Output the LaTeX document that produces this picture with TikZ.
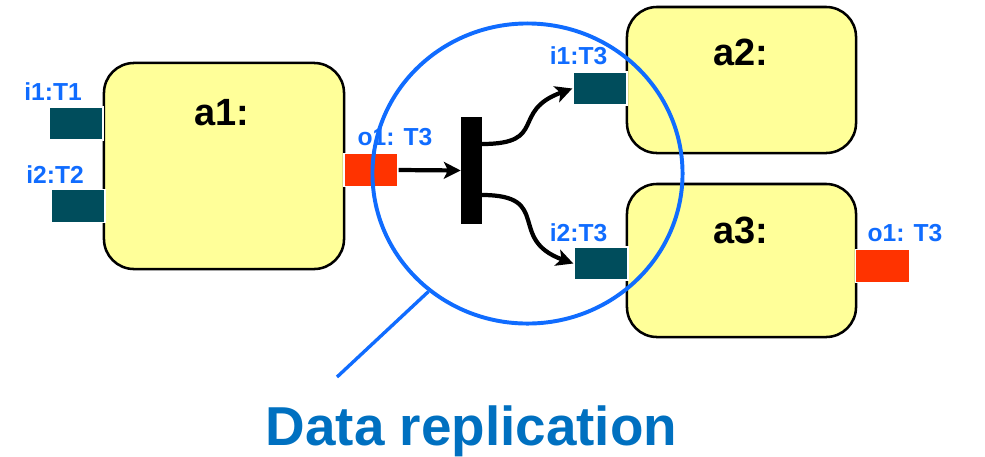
\documentclass[tikz,border=0pt]{standalone}
\usepackage{fontspec}
\setmainfont{Liberation Sans}
\usetikzlibrary{arrows.meta,shapes.geometric}

\definecolor{boxyellow}{RGB}{255,255,153}
\definecolor{portteal}{RGB}{0,77,92}
\definecolor{portred}{RGB}{255,51,0}
\definecolor{labblue}{RGB}{16,108,255}
\definecolor{titleblue}{RGB}{0,112,192}

\tikzset{
	box/.style={draw=black, line width=1.8pt, fill=boxyellow, rounded corners=0.75cm, inner sep=0pt},
	port/.style={draw=white, line width=1pt, minimum width=1.35cm, minimum height=0.82cm, inner sep=0pt},
	inport/.style={port, fill=portteal},
	outport/.style={port, fill=portred},
	plab/.style={labblue, font=\bfseries\fontsize{17.5}{17.5}\selectfont, anchor=base, inner sep=0pt},
	tname/.style={font=\bfseries\fontsize{27}{27}\selectfont, anchor=base, inner sep=0pt},
	flow/.style={line width=3pt, -{Stealth[length=12pt, width=12pt, inset=3pt]}},
}

\begin{document}
\begin{tikzpicture}[x=0.025cm, y=-0.025cm]
	\useasboundingbox (0,0) rectangle (985,456);

	\node [box, minimum width=6cm, minimum height=5.15cm] (a1) at (224,166) {};
	\node [box, minimum width=5.725cm, minimum height=3.65cm] (a2) at (741.5,80) {};
	\node [box, minimum width=5.725cm, minimum height=3.825cm] (a3) at (741.5,260.5) {};
	\node [tname] (a1t) at (222,125) {a1:};
	\node [tname] (a2t) at (740.5,65) {a2:};
	\node [tname] (a3t) at (740.5,243) {a3:};

	\node [inport] (a1i1) at (76,123.5) {};
	\node [inport] (a1i2) at (78,206) {};
	\node [outport] (a1o1) at (371,170) {};
	\node [inport] (a2i1) at (600,88.5) {};
	\node [inport] (a3i2) at (601,263.5) {};
	\node [outport] (a3o1) at (882.5,266) {};

	\node [plab] (l1) at (53,100) {i1:T1};
	\node [plab] (l2) at (55,183) {i2:T2};
	\node [plab] (l3) at (395,145) {o1: T3};
	\node [plab] (l4) at (578.5,64) {i1:T3};
	\node [plab] (l5) at (578.5,241) {i2:T3};
	\node [plab] (l6) at (905,241) {o1: T3};

	\node [fill=black, minimum width=0.525cm, minimum height=2.675cm, inner sep=0pt] (bar) at (471.5,170.5) {};
	\coordinate (s1) at (482,144);
	\coordinate (s2) at (482,195);

	\draw [flow] (a1o1.east) -- (bar.west);
	\draw [flow] (s1) to [out=0, in=200, looseness=1.6] (a2i1.west);
	\draw [flow] (s2) to [out=0, in=160, looseness=1.6] (a3i2.west);

	\node [draw=labblue, line width=2.8pt, ellipse, minimum width=7.75cm, minimum height=7.5cm, inner sep=0pt] (ring) at (527.5,173.5) {};
	\coordinate (tail) at (337,377);
	\draw [labblue, line width=2.4pt] (tail) -- (ring.230);

	\node [titleblue, font=\bfseries\fontsize{39}{39}\selectfont, anchor=base, inner sep=0pt] (title) at (471.5,445) {Data replication};
\end{tikzpicture}
\end{document}
